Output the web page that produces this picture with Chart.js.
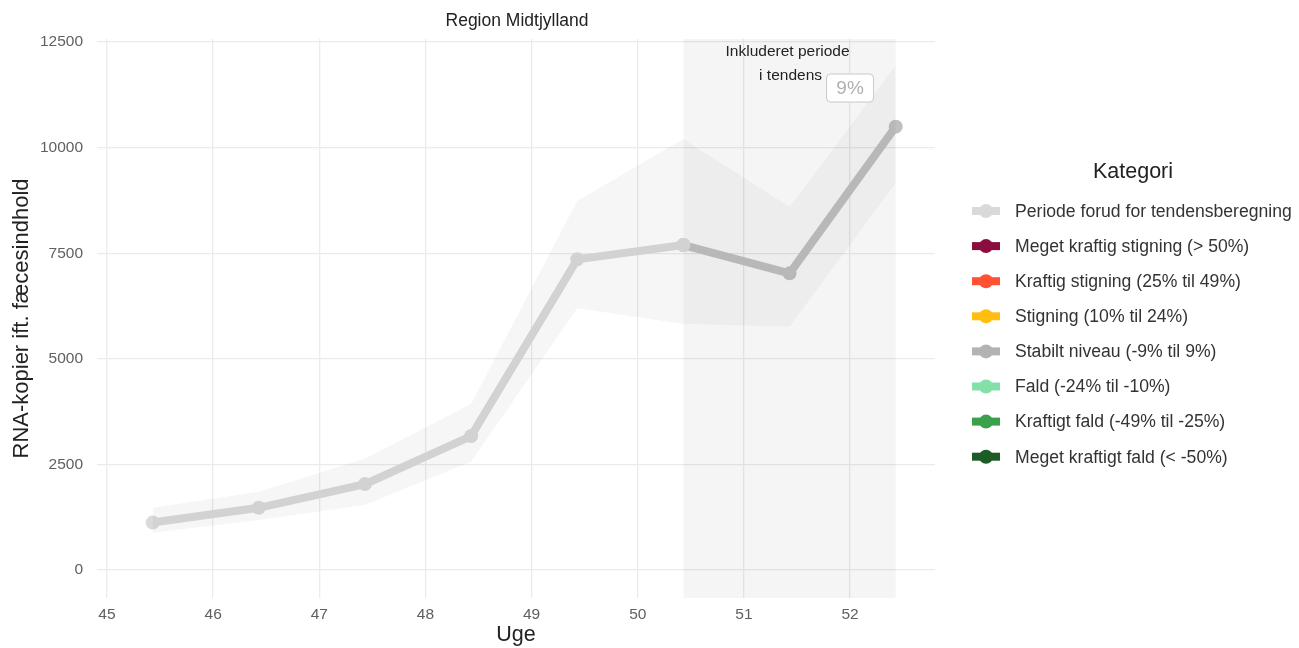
<!DOCTYPE html>
<html lang="da">
<head>
<meta charset="utf-8">
<title>Region Midtjylland</title>
<script src="https://cdn.jsdelivr.net/npm/chart.js@4.4.1/dist/chart.umd.min.js"></script>
<style>
  html, body { margin: 0; padding: 0; background: #fff; }
  #wrap { width: 1299px; height: 648px; }
</style>
</head>
<body>
<div id="wrap"><canvas id="chart" width="1299" height="648"></canvas></div>
<script>
// data
const weeks = [45.43, 46.43, 47.43, 48.43, 49.43, 50.43, 51.43, 52.43];
const copies = [1125, 1475, 2036, 3172, 7355, 7694, 7024, 10495];
const bandLow = [883, 1184, 1539, 2565, 6195, 5824, 5760, 9154];
const bandHigh = [1475, 1854, 2644, 3930, 8744, 10204, 8602, 11955];
const trendStart = 50.43;
const trendEnd = 52.43;
const trendPct = '9%';
const xTicks = [45, 46, 47, 48, 49, 50, 51, 52];
const yTicks = [0, 2500, 5000, 7500, 10000, 12500];
const categories = [
  'Periode forud for tendensberegning',
  'Meget kraftig stigning (> 50%)',
  'Kraftig stigning (25% til 49%)',
  'Stigning (10% til 24%)',
  'Stabilt niveau (-9% til 9%)',
  'Fald (-24% til -10%)',
  'Kraftigt fald (-49% til -25%)',
  'Meget kraftigt fald (< -50%)'
];
const categoryColors = ['#d9d9d9', '#8b0d3d', '#fe5233', '#ffbf0f', '#b3b3b3', '#83e0a9', '#3aa04a', '#1d5b27'];

const FONT = '"Liberation Sans", Arial, sans-serif';

const points = weeks.map((w, i) => ({ x: w, y: copies[i] }));
const beforeTrend = points.filter(p => p.x <= trendStart);
const inTrend = points.filter(p => p.x >= trendStart);

// shaded trend period + title, annotation and legend
const extras = {
  id: 'extras',
  beforeDatasetsDraw(chart) {
    const { ctx, chartArea, scales } = chart;
    const x0 = scales.x.getPixelForValue(trendStart);
    const x1 = scales.x.getPixelForValue(trendEnd);
    ctx.save();
    ctx.fillStyle = 'rgba(0,0,0,0.038)';
    ctx.fillRect(x0, chartArea.top, x1 - x0, chartArea.bottom - chartArea.top);
    ctx.restore();
  },
  afterDraw(chart) {
    const { ctx, chartArea, scales } = chart;
    ctx.save();

    // title
    ctx.fillStyle = '#222';
    ctx.font = '17.5px ' + FONT;
    ctx.textAlign = 'center';
    ctx.textBaseline = 'middle';
    ctx.fillText('Region Midtjylland', (chartArea.left + chartArea.right) / 2 + 1, 21);

    // annotation
    const ax = scales.x.getPixelForValue((trendStart + trendEnd) / 2);
    const ay = scales.y.getPixelForValue(12000);
    ctx.font = '15.5px ' + FONT;
    ctx.fillStyle = '#222';
    ctx.fillText('Inkluderet periode', ax - 2, ay - 11);
    ctx.fillText('i tendens', ax + 1, ay + 13);

    // percent label
    const px = scales.x.getPixelForValue(52);
    const py = scales.y.getPixelForValue(11410);
    const bw = 47, bh = 28;
    ctx.beginPath();
    ctx.roundRect(px - bw / 2, py - bh / 2, bw, bh, 4);
    ctx.fillStyle = '#fff';
    ctx.fill();
    ctx.strokeStyle = '#c8c8c8';
    ctx.lineWidth = 1;
    ctx.stroke();
    ctx.fillStyle = '#b0b0b0';
    ctx.font = '19px ' + FONT;
    ctx.fillText(trendPct, px, py + 1);

    // legend
    ctx.fillStyle = '#222';
    ctx.font = '21.5px ' + FONT;
    ctx.fillText('Kategori', 1133, 172);
    ctx.textAlign = 'left';
    ctx.font = '17.6px ' + FONT;
    categories.forEach((label, i) => {
      const y = 211 + i * 35.1;
      ctx.strokeStyle = categoryColors[i];
      ctx.lineWidth = 8;
      ctx.beginPath();
      ctx.moveTo(972, y);
      ctx.lineTo(1000, y);
      ctx.stroke();
      ctx.fillStyle = categoryColors[i];
      ctx.beginPath();
      ctx.arc(986, y, 7, 0, Math.PI * 2);
      ctx.fill();
      ctx.fillStyle = '#333';
      ctx.fillText(label, 1015, y + 1);
    });
    ctx.restore();
  }
};

new Chart(document.getElementById('chart'), {
  type: 'line',
  data: {
    datasets: [
      {
        label: 'lower',
        data: weeks.map((w, i) => ({ x: w, y: bandLow[i] })),
        borderWidth: 0,
        pointRadius: 0,
        fill: false
      },
      {
        label: 'upper',
        data: weeks.map((w, i) => ({ x: w, y: bandHigh[i] })),
        borderWidth: 0,
        pointRadius: 0,
        fill: '-1',
        backgroundColor: 'rgba(0,0,0,0.035)'
      },
      {
        label: categories[0],
        data: beforeTrend,
        borderColor: '#dadada',
        backgroundColor: '#dadada',
        borderWidth: 8,
        pointRadius: 7,
        pointBorderWidth: 0,
        fill: false
      },
      {
        label: categories[4],
        data: inTrend,
        borderColor: '#bfbfbf',
        backgroundColor: '#bfbfbf',
        borderWidth: 8,
        pointRadius: 7,
        pointBorderWidth: 0,
        fill: false
      }
    ]
  },
  options: {
    responsive: false,
    animation: false,
    devicePixelRatio: 1,
    layout: { padding: { top: 39, right: 364, left: 0, bottom: 0 } },
    plugins: {
      legend: { display: false },
      tooltip: { enabled: false }
    },
    scales: {
      x: {
        type: 'linear',
        min: 44.906,
        max: 52.8,
        afterBuildTicks: s => { s.ticks = xTicks.map(v => ({ value: v })); },
        afterFit: s => { s.height = 50; },
        grid: { color: '#ebebeb', lineWidth: 1.3, drawTicks: false },
        border: { display: false },
        ticks: { color: '#606060', padding: 7, font: { size: 15.5, family: FONT }, callback: v => String(v) },
        title: { display: true, text: 'Uge', color: '#222', font: { size: 21.5, family: FONT }, padding: { top: 0, bottom: 0 } }
      },
      y: {
        min: -660,
        max: 12570,
        afterBuildTicks: s => { s.ticks = yTicks.map(v => ({ value: v })); },
        afterFit: s => { s.width = 97; },
        grid: { color: '#ebebeb', lineWidth: 1.3, drawTicks: false },
        border: { display: false },
        ticks: { color: '#606060', padding: 14, font: { size: 15.5, family: FONT }, callback: v => String(v) },
        title: { display: true, text: 'RNA-kopier ift. fæcesindhold', color: '#222', font: { size: 22, family: FONT }, padding: { top: 9, bottom: 0 } }
      }
    }
  },
  plugins: [extras]
});
</script>
</body>
</html>
